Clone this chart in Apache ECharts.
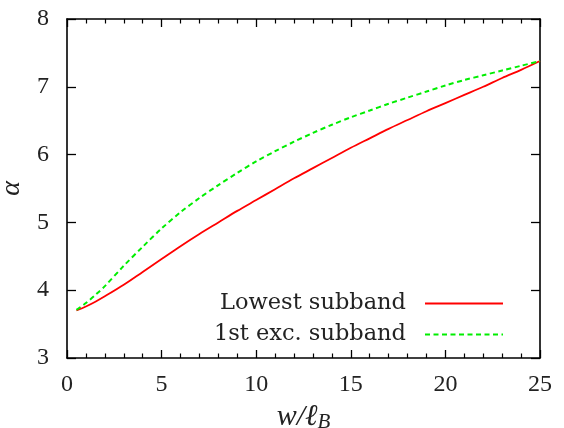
<!DOCTYPE html>
<html>
<head>
<meta charset="utf-8">
<script src="https://cdn.jsdelivr.net/npm/echarts@6/dist/echarts.min.js"></script>
<style>
  html, body { margin: 0; padding: 0; background: #fff; }
  #chart { width: 564px; height: 428px; }
</style>
</head>
<body>
<div id="chart"></div>
<script>
// Strip width w in units of the magnetic length
const widths = [0.5, 1, 1.5, 2, 3, 4, 5, 6, 7, 8, 9, 10, 11, 12, 13, 14, 15,
                16, 17, 18, 19, 20, 21, 22, 23, 24, 25];
// alpha for the lowest subband
const alphaLowest = [3.70, 3.76, 3.83, 3.91, 4.08, 4.27, 4.46, 4.65, 4.83, 5.00,
                     5.17, 5.33, 5.49, 5.65, 5.80, 5.95, 6.10, 6.24, 6.38, 6.51,
                     6.64, 6.76, 6.88, 7.00, 7.13, 7.25, 7.38];
// alpha for the first excited subband
const alphaFirstExc = [3.71, 3.81, 3.93, 4.06, 4.36, 4.64, 4.91, 5.15, 5.36, 5.55,
                       5.73, 5.90, 6.05, 6.19, 6.32, 6.44, 6.55, 6.65, 6.75, 6.84,
                       6.93, 7.02, 7.10, 7.17, 7.24, 7.31, 7.38];
const seriesNames = ['Lowest subband', '1st exc. subband'];
const xTicks = { min: 0, max: 25, interval: 5 };
const yTicks = { min: 3, max: 8, interval: 1 };

const pairs = (ys) => widths.map((x, i) => [x, ys[i]]);

const serif = '"Liberation Serif", "Times New Roman", serif';
const tickFont = { fontFamily: serif, fontSize: 24, color: '#222' };
const frameLine = { show: true, onZero: false, lineStyle: { color: '#000', width: 1.6 } };

function xAxisDef(pos, labels) {
  return {
    type: 'value', position: pos, min: xTicks.min, max: xTicks.max, interval: xTicks.interval,
    axisLine: frameLine,
    axisTick: { show: true, inside: true, length: 8, lineStyle: { color: '#000', width: 1.3 } },
    minorTick: { show: true, splitNumber: 5, length: 4.5, lineStyle: { color: '#000', width: 1.2 } },
    axisLabel: Object.assign({ show: labels, margin: 15 }, tickFont),
    splitLine: { show: false }
  };
}
function yAxisDef(pos, labels) {
  return {
    type: 'value', position: pos, min: yTicks.min, max: yTicks.max, interval: yTicks.interval,
    axisLine: frameLine,
    axisTick: { show: true, inside: true, length: 9, lineStyle: { color: '#000', width: 1.3 } },
    axisLabel: Object.assign({ show: labels, margin: 18 }, tickFont),
    splitLine: { show: false }
  };
}

const xMain = xAxisDef('bottom', true);
xMain.name = '{i|w/ℓ}{s|B}';
xMain.nameLocation = 'middle';
xMain.nameGap = 40;
xMain.nameTextStyle = {
  rich: {
    i: { fontFamily: serif, fontStyle: 'italic', fontSize: 30, color: '#222' },
    s: { fontFamily: serif, fontStyle: 'italic', fontSize: 21, color: '#222', padding: [12, 0, 0, 0] }
  }
};
const yMain = yAxisDef('left', true);
yMain.name = 'α';
yMain.nameLocation = 'middle';
yMain.nameGap = 38;
yMain.nameTextStyle = { fontFamily: serif, fontStyle: 'italic', fontSize: 28, color: '#222' };

const legendText = { fontFamily: '"DejaVu Serif", serif', fontSize: 22.5, color: '#222', padding: [0, 14, 0, 0] };
function legendDef(name, top) {
  return {
    data: [name], right: 60, top: top, orient: 'vertical', align: 'right',
    padding: 0, itemWidth: 78, itemHeight: 20, selectedMode: false,
    itemStyle: { opacity: 0 },
    textStyle: legendText
  };
}

const chart = echarts.init(document.getElementById('chart'), null, { renderer: 'canvas' });
chart.setOption({
  animation: false,
  backgroundColor: '#fff',
  grid: { left: 67, top: 19, right: 24, bottom: 70, containLabel: false, outerBoundsMode: 'none' },
  xAxis: [xMain, xAxisDef('top', false)],
  yAxis: [yMain, yAxisDef('right', false)],
  legend: [legendDef(seriesNames[0], 292), legendDef(seriesNames[1], 323)],
  series: [
    {
      name: seriesNames[0], type: 'line', xAxisIndex: 0, yAxisIndex: 0,
      data: pairs(alphaLowest), symbol: 'none', smooth: 0.3,
      lineStyle: { color: '#ff0000', width: 1.8 }, itemStyle: { color: '#ff0000' }
    },
    {
      name: seriesNames[1], type: 'line', xAxisIndex: 0, yAxisIndex: 0,
      data: pairs(alphaFirstExc), symbol: 'none', smooth: 0.3,
      lineStyle: { color: '#00ee00', width: 2, type: [5, 3.5] }, itemStyle: { color: '#00ee00' }
    }
  ]
});
</script>
</body>
</html>
